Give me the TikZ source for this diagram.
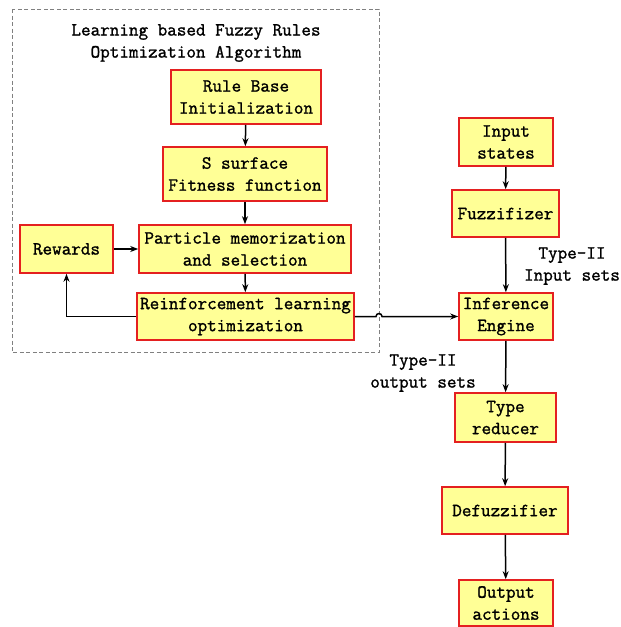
\documentclass[tikz,border=0pt]{standalone}
\usepackage{fontspec}
\setmonofont{Latin Modern Mono}[FakeBold=1.3]
\usetikzlibrary{arrows.meta}
\definecolor{boxfill}{RGB}{255,255,150}
\definecolor{boxline}{RGB}{228,32,32}
\tikzset{
  blk/.style={draw=boxline, fill=boxfill, line width=1.6pt, align=center, inner sep=0pt,
    font=\ttfamily\fontsize{18.6}{22}\selectfont},
  lbl/.style={align=center, inner sep=0pt, font=\ttfamily\fontsize{18.6}{22}\selectfont},
  flow/.style={line width=1.5pt, -{Stealth[length=8pt,width=6pt]}},
  frame/.style={draw=gray, line width=0.6pt, dash pattern=on 4pt off 2.5pt}
}
\begin{document}
\begin{tikzpicture}[x=1pt,y=-1pt]
\useasboundingbox (0,0) rectangle (621,627);
\draw[frame] (12,9) rectangle (379,352);
\node[lbl] (title) at (196,43) {Learning based Fuzzy Rules\\Optimization Algorithm};

\node[blk, minimum width=150pt, minimum height=54pt] (rb) at (246,97) {Rule Base\\Initialization};
\node[blk, minimum width=164pt, minimum height=54pt] (ss) at (245,174) {S surface\\Fitness function};
\node[blk, minimum width=93pt, minimum height=48pt] (rw) at (66.5,249) {Rewards};
\node[blk, minimum width=212pt, minimum height=48pt] (pm) at (245,249) {Particle memorization\\and selection};
\node[blk, minimum width=217pt, minimum height=47pt] (rl) at (245.5,316.5) {Reinforcement learning\\optimization};

\node[blk, minimum width=94pt, minimum height=48pt] (in) at (506,142) {Input\\states};
\node[blk, minimum width=107pt, minimum height=47pt] (fz) at (505.5,213.5) {Fuzzifizer};
\node[blk, minimum width=94pt, minimum height=47pt] (ie) at (506,316.5) {Inference\\Engine};
\node[blk, minimum width=101pt, minimum height=49pt] (tr) at (505.5,417.5) {Type\\reducer};
\node[blk, minimum width=126pt, minimum height=47pt] (df) at (505,510.5) {Defuzzifier};
\node[blk, minimum width=94pt, minimum height=46pt] (oa) at (506,603) {Output\\actions};

\node[lbl] (l1) at (572,266) {Type-II\\Input sets};
\node[lbl] (l2) at (423,373) {Type-II\\output sets};

\draw[flow] (rb) -- (ss);
\draw[flow] (ss) -- (pm);
\draw[flow] (rw) -- (pm);
\draw[flow] (pm) -- (rl);
\draw[flow] (rl.west) -| (rw.south);
\coordinate (hopL) at (376,316.5);
\coordinate (hopR) at (382,316.5);
\draw[flow] (rl.east) -- (hopL) arc[start angle=180, end angle=0, radius=3pt] -- (ie.west);

\draw[flow] (in) -- (fz);
\draw[flow] (fz) -- (ie);
\draw[flow] (ie) -- (tr);
\draw[flow] (tr) -- (df);
\draw[flow] (df) -- (oa);
\end{tikzpicture}
\end{document}
